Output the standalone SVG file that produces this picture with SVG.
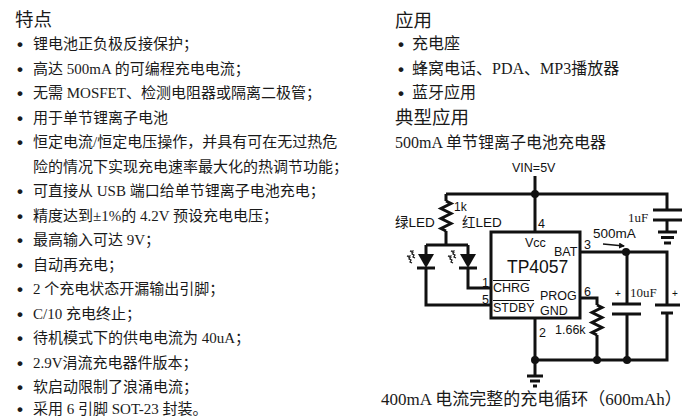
<svg xmlns="http://www.w3.org/2000/svg" width="690" height="419" viewBox="0 0 690 419">
<defs>
<style>
.t{font-family:"Liberation Serif","Noto Sans CJK SC",serif;fill:#1a1a1a}
.h{font-size:18.5px}
.b{font-size:15px}
.r{font-size:16px}
.bu{font-family:"Liberation Sans",sans-serif;font-size:17px;font-weight:bold;fill:#1a1a1a}
.s{font-family:"Liberation Sans","Noto Sans CJK SC",sans-serif;fill:#111}
.w{fill:none;stroke:#111;stroke-width:3;stroke-linejoin:miter}
.thin{fill:none;stroke:#111;stroke-width:1.2}
.dot{fill:#111}
</style>
<marker id="ah" viewBox="0 0 6 6" refX="5" refY="3" markerWidth="6" markerHeight="6" orient="auto" markerUnits="userSpaceOnUse"><path d="M0,0 L6,3 L0,6 z" fill="#111"/></marker>
<marker id="la" viewBox="0 0 4 4" refX="3.5" refY="2" markerWidth="4" markerHeight="4" orient="auto" markerUnits="userSpaceOnUse"><path d="M0,0 L4,2 L0,4 z" fill="#333"/></marker>
</defs>
<rect width="690" height="419" fill="#fff"/>

<g id="features">
<text class="t h" x="15" y="26">特点</text>
<g class="bu">
<text x="17" y="50">•</text><text x="17" y="75">•</text><text x="17" y="99">•</text><text x="17" y="124">•</text>
<text x="17" y="148">•</text><text x="17" y="197">•</text><text x="17" y="222">•</text><text x="17" y="246">•</text>
<text x="17" y="271">•</text><text x="17" y="295">•</text><text x="17" y="320">•</text><text x="17" y="344">•</text>
<text x="17" y="369">•</text><text x="17" y="393">•</text><text x="17" y="415">•</text>
</g>
<g class="t b">
<text x="33" y="49">锂电池正负极反接保护；</text>
<text x="33" y="74">高达 500mA 的可编程充电电流；</text>
<text x="33" y="98">无需 MOSFET、检测电阻器或隔离二极管；</text>
<text x="33" y="123">用于单节锂离子电池</text>
<text x="33" y="147">恒定电流/恒定电压操作，并具有可在无过热危</text>
<text x="33" y="172">险的情况下实现充电速率最大化的热调节功能；</text>
<text x="33" y="196">可直接从 USB 端口给单节锂离子电池充电；</text>
<text x="33" y="221">精度达到±1%的 4.2V 预设充电电压；</text>
<text x="33" y="245">最高输入可达 9V；</text>
<text x="33" y="270">自动再充电；</text>
<text x="33" y="294">2 个充电状态开漏输出引脚；</text>
<text x="33" y="319">C/10 充电终止；</text>
<text x="33" y="343">待机模式下的供电电流为 40uA；</text>
<text x="33" y="368">2.9V涓流充电器件版本；</text>
<text x="33" y="392">软启动限制了浪涌电流；</text>
<text x="33" y="414">采用 6 引脚 SOT-23 封装。</text>
</g>
</g>

<g id="applications">
<text class="t h" x="395" y="27">应用</text>
<g class="bu">
<text x="398" y="50">•</text><text x="398" y="75">•</text><text x="398" y="99">•</text>
</g>
<g class="t r">
<text x="412" y="49">充电座</text>
<text x="412" y="74">蜂窝电话、PDA、MP3播放器</text>
<text x="412" y="98">蓝牙应用</text>
</g>
<text class="t h" x="395" y="124">典型应用</text>
<text class="t r" x="395" y="148">500mA 单节锂离子电池充电器</text>
</g>

<g id="connectors">
<path class="w" d="M535,176 V232"/>
<path class="w" d="M446,194 H667 V210"/>
<path class="w" d="M667,220 V232"/>
<path class="w" d="M446,194 V201 M446,231 V245 M426,245 H468 M426,245 V254 M468,245 V254"/>
<path class="w" d="M426,268 V305 H491"/>
<path class="w" d="M468,268 V288 H491"/>
<path class="w" d="M580,252 H667 V305"/>
<path class="w" d="M667,313 V360 H535"/>
<path class="w" d="M627,252 V304 M627,314 V360"/>
<path class="w" d="M580,298 H597 V305 M597,335 V360"/>
<path class="w" d="M535,318 V376"/>
<circle class="dot" cx="535" cy="194" r="4"/>
<circle class="dot" cx="626" cy="252" r="4"/>
<circle class="dot" cx="535" cy="360" r="4"/>
<circle class="dot" cx="597" cy="360" r="4"/>
<circle class="dot" cx="627" cy="360" r="4"/>
<path d="M603,244 L624,246" stroke="#111" stroke-width="1.5" marker-end="url(#ah)"/>
</g>

<g id="vin">
<text class="s" x="512" y="172" font-size="12.5">VIN=5V</text>
</g>

<g id="chip">
<rect x="491" y="232" width="89" height="86" fill="#fff" stroke="#111" stroke-width="3"/>
<text class="s" x="525" y="247" font-size="12.5">Vcc</text>
<text class="s" x="554" y="256" font-size="12.5">BAT</text>
<text class="s" x="507" y="273" font-size="17.5">TP4057</text>
<text class="s" x="493" y="292" font-size="12.5">CHRG</text>
<line x1="493" y1="280.5" x2="530" y2="280.5" stroke="#111" stroke-width="1"/>
<text class="s" x="493" y="312" font-size="12.5">STDBY</text>
<line x1="493" y1="300.5" x2="534" y2="300.5" stroke="#111" stroke-width="1"/>
<text class="s" x="540" y="300" font-size="12.5">PROG</text>
<text class="s" x="540" y="315" font-size="12.5">GND</text>
<g class="s" font-size="12.5">
<text x="538" y="228">4</text>
<text x="584" y="249">3</text>
<text x="482" y="287">1</text>
<text x="482" y="304">5</text>
<text x="584" y="296">6</text>
<text x="539" y="337">2</text>
</g>
</g>

<g id="r1k">
<path class="w" d="M446,201 l5,2.5 l-10,5 l10,5 l-10,5 l10,5 l-10,5 l5,2.5" stroke-width="2.5"/>
<text class="s" x="454" y="211" font-size="12">1k</text>
</g>

<g id="led-green">
<path d="M418,254 H434 L426,268 z" fill="#111"/>
<path class="w" d="M417,268 H435"/>
<path class="thin" d="M415,258 l-2,-1 l1,-2 l-2,-1 l1,-2 l-3,-1" marker-end="url(#la)"/>
<path class="thin" d="M412,263 l-2,-1 l1,-2 l-2,-1 l1,-2 l-3,-1" marker-end="url(#la)"/>
<text class="s" x="395" y="227" font-size="13.5">绿LED</text>
</g>

<g id="led-red">
<path d="M460,254 H476 L468,268 z" fill="#111"/>
<path class="w" d="M459,268 H477"/>
<path class="thin" d="M456,258 l-2,-1 l1,-2 l-2,-1 l1,-2 l-3,-1" marker-end="url(#la)"/>
<path class="thin" d="M453,263 l-2,-1 l1,-2 l-2,-1 l1,-2 l-3,-1" marker-end="url(#la)"/>
<text class="s" x="462" y="227" font-size="13.5">红LED</text>
</g>

<g id="c1uf">
<path class="w" d="M653,210 H682 M653,220 H682"/>
<path class="w" d="M658,232 H677 M661,237.5 H674 M664,243 H671" stroke-width="2.5"/>
<text class="t" x="628" y="222" font-size="13">1uF</text>
</g>

<g id="label-500ma">
<text class="s" x="593" y="238" font-size="13.5">500mA</text>
</g>

<g id="c10uf">
<path class="w" d="M612,304 H641 M612,314 H641"/>
<text class="s" x="615" y="297" font-size="10">+</text>
<text class="t" x="630" y="297" font-size="13">10uF</text>
</g>

<g id="battery">
<path class="w" d="M655,305 H680"/>
<path class="w" d="M661,313 H673" stroke-width="3.5"/>
<text class="s" x="672" y="297" font-size="10">+</text>
</g>

<g id="rprog">
<path class="w" d="M597,305 l5,2.5 l-10,5 l10,5 l-10,5 l10,5 l-10,5 l5,2.5" stroke-width="2.5"/>
<text class="s" x="555" y="334" font-size="12.5">1.66k</text>
</g>

<g id="gnd">
<path class="w" d="M527,376 H543 M530,381 H540 M533,386 H537" stroke-width="2.5"/>
</g>

<text id="caption" class="t" x="381" y="405" font-size="17">400mA 电流完整的充电循环（600mAh）</text>
</svg>
